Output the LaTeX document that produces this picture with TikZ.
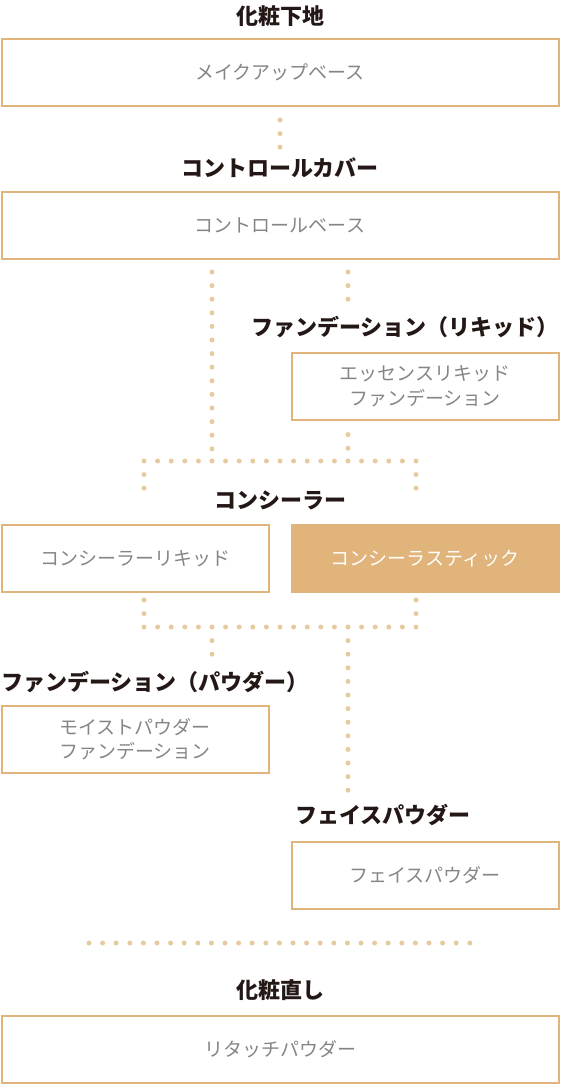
\documentclass[tikz,border=0pt]{standalone}
\usepackage{fontspec}
\newfontfamily\jpfont{Noto Sans CJK JP}
\definecolor{linec}{HTML}{E0B47A}
\definecolor{dotc}{HTML}{E6CBA0}
\definecolor{grayc}{HTML}{858585}
\definecolor{titlec}{HTML}{231815}
\tikzset{
    title/.style={font=\jpfont\bfseries\fontsize{22pt}{24pt}\selectfont, text=titlec, inner sep=0pt},
    itembox/.style={draw=linec, line width=2pt, text=grayc, align=center, inner sep=0pt,
        font=\jpfont\fontsize{19pt}{24.5pt}\selectfont, minimum height=67pt},
    wide/.style={itembox, minimum width=557pt},
    half/.style={itembox, minimum width=267pt},
    dots/.style={dotc, line width=5pt, line cap=round, dash pattern=on 0pt off 13.6pt}
}
\begin{document}
\begin{tikzpicture}[x=1pt, y=-1pt]
    \useasboundingbox (0,0) rectangle (560,1084);

    % make-up base
    \node[title] (t1) at (280,16) {化粧下地};
    \node[wide] (b1) at (280,72) {メイクアップベース};

    % control color
    \node[title] (t2) at (280,168) {コントロールカバー};
    \node[wide] (b2) at (280,225) {コントロールベース};

    % liquid foundation
    \node[title] (t3) at (405,327) {ファンデーション（リキッド）};
    \node[half] (b3) at (425,386) {エッセンスリキッド\\ファンデーション};

    % concealer
    \node[title] (t4) at (280,500) {コンシーラー};
    \node[half] (b4) at (135,558.5) {コンシーラーリキッド};
    \node[half, fill=linec, text=white] (b5) at (425,558.5) {コンシーラスティック};

    % powder foundation
    \node[title] (t5) at (155,682) {ファンデーション（パウダー）};
    \node[half] (b6) at (135,739) {モイストパウダー\\ファンデーション};

    % face powder
    \node[title] (t6) at (383,815) {フェイスパウダー};
    \node[half] (b7) at (425,875) {フェイスパウダー};

    % touch up
    \node[title] (t7) at (280,990) {化粧直し};
    \node[wide] (b8) at (280,1049) {リタッチパウダー};

    % dotted connectors
    \coordinate (a1) at (280,120);   \coordinate (a2) at (280,147.4);
    \coordinate (l1) at (212,272);   \coordinate (l2) at (212,449);
    \coordinate (r1) at (348,272);   \coordinate (r2) at (348,299.4);
    \coordinate (r3) at (348,434.6); \coordinate (r4) at (348,448.4);
    \coordinate (h1) at (144,461);   \coordinate (h2) at (416.2,461);
    \coordinate (c1) at (144,474.6); \coordinate (c2) at (144,488.4);
    \coordinate (c3) at (416,474.6); \coordinate (c4) at (416,488.4);
    \coordinate (d1) at (144,600);   \coordinate (d2) at (144,613.8);
    \coordinate (d3) at (416,600);   \coordinate (d4) at (416,613.8);
    \coordinate (g1) at (144,627);   \coordinate (g2) at (416.2,627);
    \coordinate (p1) at (212,640.6); \coordinate (p2) at (212,654.4);
    \coordinate (q1) at (348,640.6); \coordinate (q2) at (348,790.4);
    \coordinate (k1) at (89,943);    \coordinate (k2) at (470.2,943);

    \draw[dots] (a1) -- (a2);
    \draw[dots] (l1) -- (l2);
    \draw[dots] (r1) -- (r2);
    \draw[dots] (r3) -- (r4);
    \draw[dots] (h1) -- (h2);
    \draw[dots] (c1) -- (c2);
    \draw[dots] (c3) -- (c4);
    \draw[dots] (d1) -- (d2);
    \draw[dots] (d3) -- (d4);
    \draw[dots] (g1) -- (g2);
    \draw[dots] (p1) -- (p2);
    \draw[dots] (q1) -- (q2);
    \draw[dots] (k1) -- (k2);
\end{tikzpicture}
\end{document}
